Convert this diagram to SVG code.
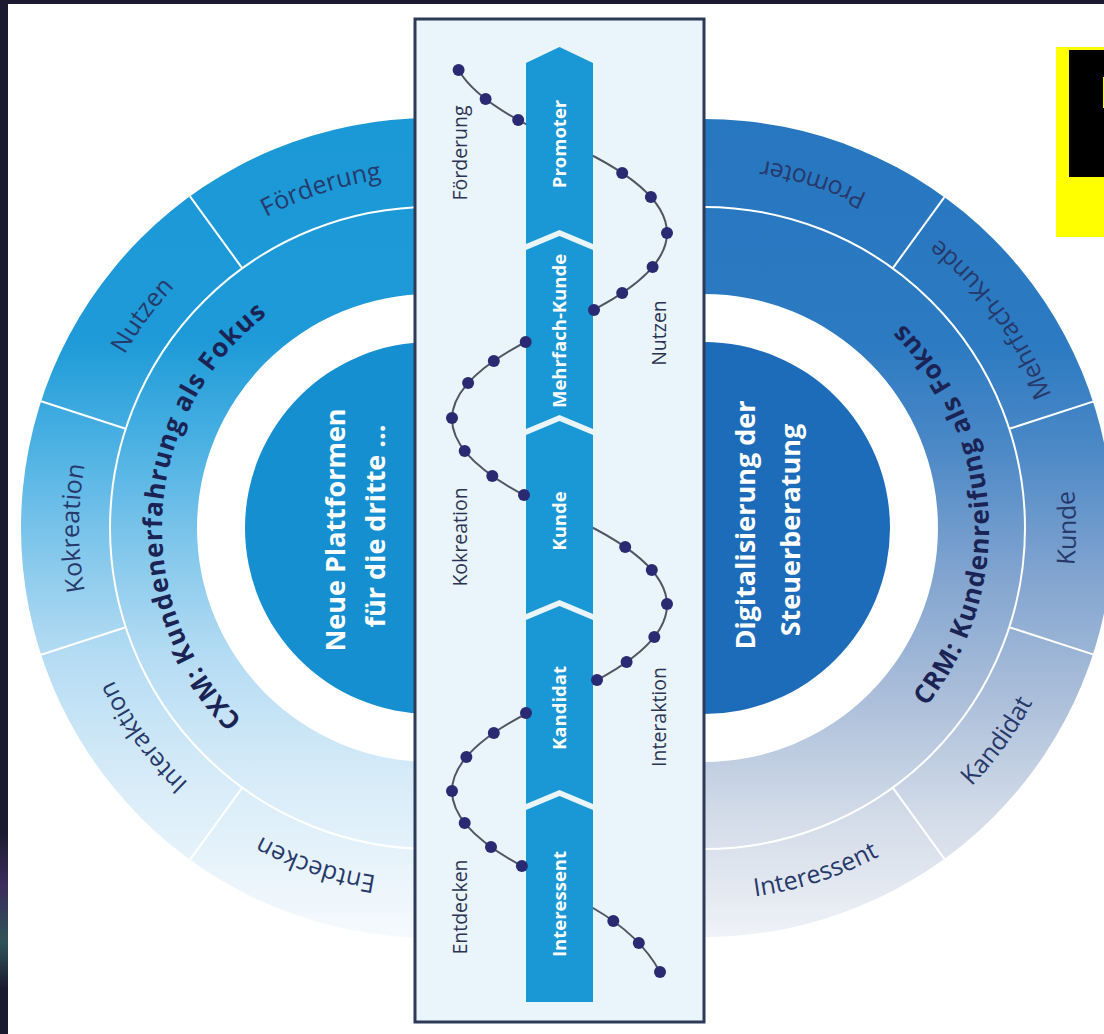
<svg xmlns="http://www.w3.org/2000/svg" width="1104" height="1034" viewBox="0 0 1104 1034">
<style>
.lbl{font-family:"Open Sans","Liberation Sans",sans-serif;font-size:25px;fill:#27396a}
.ttl{font-family:"Open Sans","Liberation Sans",sans-serif;font-size:26px;font-weight:700;fill:#1b2354;letter-spacing:1px}
.ctr{font-family:"Open Sans","Liberation Sans",sans-serif;font-size:27px;font-weight:700;fill:#ffffff}
.seg{fill:#1a97d5}
.segt{font-family:"Open Sans","Liberation Sans",sans-serif;font-size:18.5px;font-weight:700;fill:#ffffff}
.pl{font-family:"Open Sans","Liberation Sans",sans-serif;font-size:19.5px;fill:#2c3352}
.sep{stroke:#ffffff;stroke-width:2;fill:none}
.dot{fill:#2a2a73}
.wave{fill:none;stroke:#4f5563;stroke-width:2}
</style>
<defs>
<linearGradient id="gL" gradientUnits="userSpaceOnUse" x1="0" y1="118" x2="0" y2="938">
<stop offset="0" stop-color="#1b98d6"/>
<stop offset="0.27" stop-color="#1d9ad7"/>
<stop offset="0.4" stop-color="#4cb1e3"/>
<stop offset="0.52" stop-color="#80c6eb"/>
<stop offset="0.65" stop-color="#b3dbf3"/>
<stop offset="0.8" stop-color="#d6ebf8"/>
<stop offset="0.92" stop-color="#e9f4fb"/>
<stop offset="1" stop-color="#f6fafd"/>
</linearGradient>
<linearGradient id="gR" gradientUnits="userSpaceOnUse" x1="0" y1="119" x2="0" y2="937">
<stop offset="0" stop-color="#2777c0"/>
<stop offset="0.27" stop-color="#2b7ac2"/>
<stop offset="0.4" stop-color="#4b88c6"/>
<stop offset="0.55" stop-color="#7fa3cf"/>
<stop offset="0.7" stop-color="#a9bdd9"/>
<stop offset="0.85" stop-color="#d2dbe8"/>
<stop offset="1" stop-color="#eff2f7"/>
</linearGradient>
<linearGradient id="gStrip" x1="0" y1="0" x2="0" y2="1">
<stop offset="0" stop-color="#1b1a2e"/>
<stop offset="0.35" stop-color="#3a2d5c"/>
<stop offset="0.7" stop-color="#2f5458"/>
<stop offset="1" stop-color="#1b1a2e"/>
</linearGradient>
<path id="pLo" d="M431,880 A352,352 0 0 1 431,176"/>
<path id="pLt" d="M431,797 A269,269 0 0 1 431,259"/>
<path id="pRo" d="M704,900 A372,372 0 0 0 704,156"/>
<path id="pRt" d="M704,813 A285,285 0 0 0 704,243"/>
<clipPath id="waveClip"><rect x="0" y="70" width="1104" height="902"/></clipPath>
</defs>

<rect x="0" y="0" width="1104" height="1034" fill="#ffffff"/>
<rect x="0" y="0" width="1104" height="4" fill="#1b1a2e"/>
<rect x="0" y="0" width="8" height="1034" fill="#1b1a2e"/>
<rect x="0" y="830" width="8" height="160" fill="url(#gStrip)"/>

<g id="left-rings">
<path d="M431,118 A410,410 0 0 0 431,938 L431,762 A234,234 0 0 1 431,294 Z" fill="url(#gL)"/>
<path class="sep" d="M431,207 A321,321 0 0 0 431,849"/>
<line class="sep" x1="242.3" y1="268.3" x2="190" y2="196.3"/>
<line class="sep" x1="125.7" y1="428.8" x2="41.1" y2="401.3"/>
<line class="sep" x1="125.7" y1="627.2" x2="41.1" y2="654.7"/>
<line class="sep" x1="242.3" y1="787.7" x2="190" y2="859.7"/>
</g>
<g id="right-rings">
<path d="M704,119 A409,409 0 0 1 704,937 L704,762 A234,234 0 0 0 704,294 Z" fill="url(#gR)"/>
<path class="sep" d="M704,207 A321,321 0 0 1 704,849"/>
<line class="sep" x1="892.7" y1="268.3" x2="944.4" y2="197.1"/>
<line class="sep" x1="1009.3" y1="428.8" x2="1093" y2="401.6"/>
<line class="sep" x1="1009.3" y1="627.2" x2="1093" y2="654.4"/>
<line class="sep" x1="892.7" y1="787.7" x2="944.4" y2="858.9"/>
</g>

<g id="left-labels">
<text class="lbl"><textPath href="#pLo" startOffset="90%" text-anchor="middle">Förderung</textPath></text>
<text class="lbl"><textPath href="#pLo" startOffset="70.2%" text-anchor="middle">Nutzen</textPath></text>
<text class="lbl"><textPath href="#pLo" startOffset="50%" text-anchor="middle">Kokreation</textPath></text>
<text class="lbl"><textPath href="#pLo" startOffset="30%" text-anchor="middle">Interaktion</textPath></text>
<text class="lbl"><textPath href="#pLo" startOffset="10.5%" text-anchor="middle">Entdecken</textPath></text>
<text class="ttl"><textPath href="#pLt" startOffset="52%" text-anchor="middle">CXM: Kundenerfahrung als Fokus</textPath></text>
</g>
<g id="right-labels">
<text class="lbl"><textPath href="#pRo" startOffset="90.3%" text-anchor="middle">Promoter</textPath></text>
<text class="lbl"><textPath href="#pRo" startOffset="70%" text-anchor="middle">Mehrfach-Kunde</textPath></text>
<text class="lbl"><textPath href="#pRo" startOffset="50%" text-anchor="middle">Kunde</textPath></text>
<text class="lbl"><textPath href="#pRo" startOffset="30%" text-anchor="middle">Kandidat</textPath></text>
<text class="lbl"><textPath href="#pRo" startOffset="10%" text-anchor="middle">Interessent</textPath></text>
<text class="ttl"><textPath href="#pRt" startOffset="52%" text-anchor="middle">CRM: Kundenreifung als Fokus</textPath></text>
</g>

<g id="node-neue-plattformen">
<circle cx="431" cy="528" r="186" fill="#168fd1"/>
<text class="ctr" transform="translate(345,530) rotate(-90)" text-anchor="middle">Neue Plattformen</text>
<text class="ctr" transform="translate(385,526) rotate(-90)" text-anchor="middle">für die dritte ...</text>
</g>
<g id="node-digitalisierung">
<circle cx="704" cy="528" r="186" fill="#1c6cb9"/>
<text class="ctr" transform="translate(755,525) rotate(-90)" text-anchor="middle">Digitalisierung der</text>
<text class="ctr" transform="translate(800,530) rotate(-90)" text-anchor="middle">Steuerberatung</text>
</g>

<g id="panel">
<rect x="415" y="19" width="289" height="1003" fill="#e9f4fb" stroke="#2c3a56" stroke-width="3"/>
</g>

<g id="connectors">
<path class="wave" clip-path="url(#waveClip)" d="M559.5,-46 C416.2,16 416.2,78 559.5,140 C702.8,202 702.8,264 559.5,326 C416.2,388 416.2,450 559.5,512 C702.8,574 702.8,636 559.5,698 C416.2,760 416.2,822 559.5,884 L593,908 Q640,935 660,972"/>
</g>

<g id="node-promoter">
<path class="seg" d="M526,63 L559.5,47 L593,63 L593,244 L559.5,230 L526,244 Z"/>
<text class="segt" transform="translate(560,144) rotate(-90)" text-anchor="middle" dy="0.35em">Promoter</text>
</g>
<g id="node-mehrfach-kunde">
<path class="seg" d="M526,250 L559.5,236 L593,250 L593,429 L559.5,415 L526,429 Z"/>
<text class="segt" transform="translate(560,331) rotate(-90)" text-anchor="middle" dy="0.35em">Mehrfach-Kunde</text>
</g>
<g id="node-kunde">
<path class="seg" d="M526,435 L559.5,421 L593,435 L593,614 L559.5,600 L526,614 Z"/>
<text class="segt" transform="translate(560,521) rotate(-90)" text-anchor="middle" dy="0.35em">Kunde</text>
</g>
<g id="node-kandidat">
<path class="seg" d="M526,620 L559.5,606 L593,620 L593,804 L559.5,790 L526,804 Z"/>
<text class="segt" transform="translate(560,708) rotate(-90)" text-anchor="middle" dy="0.35em">Kandidat</text>
</g>
<g id="node-interessent">
<path class="seg" d="M526,810 L559.5,796 L593,810 L593,1002 L526,1002 Z"/>
<text class="segt" transform="translate(560,904) rotate(-90)" text-anchor="middle" dy="0.35em">Interessent</text>
</g>

<g id="dots">
<circle class="dot" cx="458.6" cy="70" r="6"/>
<circle class="dot" cx="485.6" cy="99" r="6"/>
<circle class="dot" cx="518.2" cy="120" r="6"/>
<circle class="dot" cx="622.2" cy="173" r="6"/>
<circle class="dot" cx="650.9" cy="197" r="6"/>
<circle class="dot" cx="667" cy="233" r="6"/>
<circle class="dot" cx="652.6" cy="267" r="6"/>
<circle class="dot" cx="622.2" cy="293" r="6"/>
<circle class="dot" cx="594" cy="310" r="6"/>
<circle class="dot" cx="525.7" cy="342" r="6"/>
<circle class="dot" cx="493.8" cy="361" r="6"/>
<circle class="dot" cx="468.1" cy="383" r="6"/>
<circle class="dot" cx="452" cy="418" r="6"/>
<circle class="dot" cx="464.7" cy="451" r="6"/>
<circle class="dot" cx="492.3" cy="476" r="6"/>
<circle class="dot" cx="524" cy="495" r="6"/>
<circle class="dot" cx="625.2" cy="547" r="6"/>
<circle class="dot" cx="651.8" cy="570" r="6"/>
<circle class="dot" cx="667" cy="604" r="6"/>
<circle class="dot" cx="654.3" cy="637" r="6"/>
<circle class="dot" cx="626.6" cy="662" r="6"/>
<circle class="dot" cx="597" cy="680" r="6"/>
<circle class="dot" cx="526" cy="713" r="6"/>
<circle class="dot" cx="493.8" cy="733" r="6"/>
<circle class="dot" cx="466.4" cy="757" r="6"/>
<circle class="dot" cx="452" cy="791" r="6"/>
<circle class="dot" cx="464.7" cy="823" r="6"/>
<circle class="dot" cx="491" cy="847" r="6"/>
<circle class="dot" cx="521.9" cy="866" r="6"/>
<circle class="dot" cx="613.3" cy="921" r="6"/>
<circle class="dot" cx="638.8" cy="943" r="6"/>
<circle class="dot" cx="660" cy="972" r="6"/>
</g>

<g id="panel-labels">
<text class="pl" transform="translate(467,153) rotate(-90)" text-anchor="middle">Förderung</text>
<text class="pl" transform="translate(467,537) rotate(-90)" text-anchor="middle">Kokreation</text>
<text class="pl" transform="translate(467,907) rotate(-90)" text-anchor="middle">Entdecken</text>
<text class="pl" transform="translate(666,333) rotate(-90)" text-anchor="middle">Nutzen</text>
<text class="pl" transform="translate(666,717) rotate(-90)" text-anchor="middle">Interaktion</text>
</g>

<g id="yellow-box">
<rect x="1056" y="47" width="48" height="190" fill="#ffff00"/>
<rect x="1069" y="50" width="35" height="127" fill="#000000"/>
<rect x="1103" y="77" width="1" height="31" fill="#ffff00"/>
</g>
</svg>
